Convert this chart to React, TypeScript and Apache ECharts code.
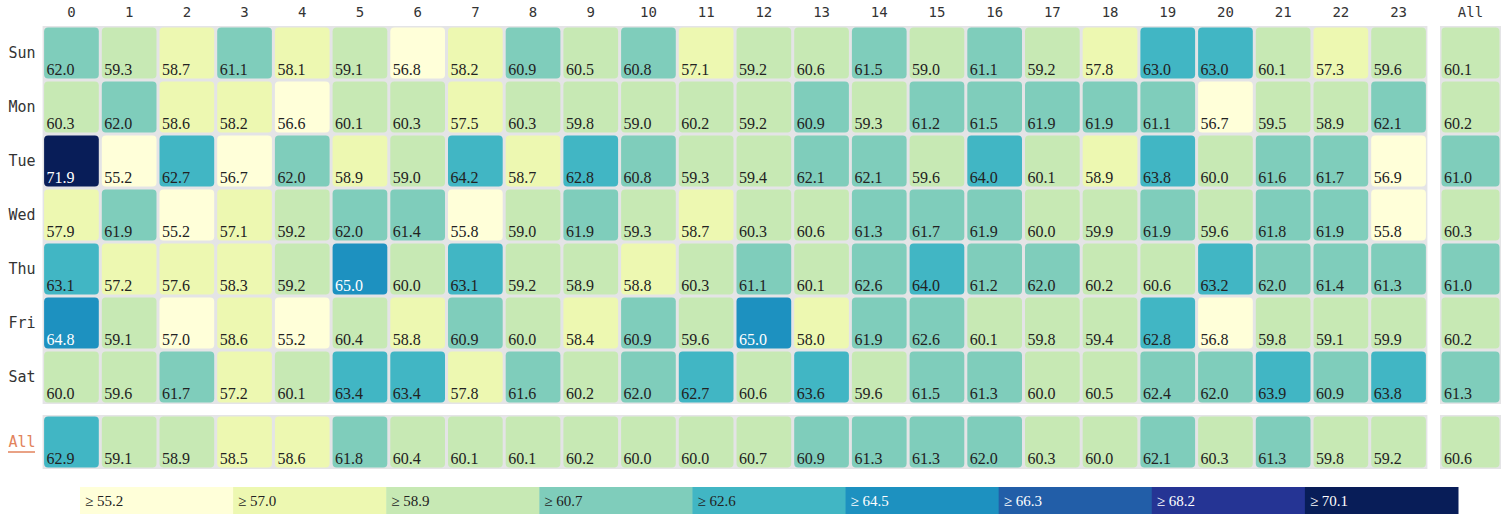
import React, { useEffect, useRef } from "react";
import * as echarts from "echarts";

const hours = ["0","1","2","3","4","5","6","7","8","9","10","11","12","13","14","15","16","17","18","19","20","21","22","23"];
const days = ["Sun", "Mon", "Tue", "Wed", "Thu", "Fri", "Sat"];
const allLabel = ["All"];

const sun = [62.0, 59.3, 58.7, 61.1, 58.1, 59.1, 56.8, 58.2, 60.9, 60.5, 60.8, 57.1, 59.2, 60.6, 61.5, 59.0, 61.1, 59.2, 57.8, 63.0, 63.0, 60.1, 57.3, 59.6];
const mon = [60.3, 62.0, 58.6, 58.2, 56.6, 60.1, 60.3, 57.5, 60.3, 59.8, 59.0, 60.2, 59.2, 60.9, 59.3, 61.2, 61.5, 61.9, 61.9, 61.1, 56.7, 59.5, 58.9, 62.1];
const tue = [71.9, 55.2, 62.7, 56.7, 62.0, 58.88, 59.0, 64.2, 58.7, 62.8, 60.8, 59.3, 59.4, 62.1, 62.1, 59.6, 64.0, 60.1, 58.87, 63.8, 60.0, 61.6, 61.7, 56.9];
const wed = [57.9, 61.9, 55.2, 57.1, 59.2, 62.0, 61.4, 55.8, 59.0, 61.9, 59.3, 58.7, 60.3, 60.6, 61.3, 61.7, 61.9, 60.0, 59.9, 61.9, 59.6, 61.8, 61.9, 55.8];
const thu = [63.1, 57.2, 57.6, 58.3, 59.2, 65.0, 60.0, 63.1, 59.2, 58.9, 58.8, 60.3, 61.1, 60.1, 62.58, 64.0, 61.2, 62.0, 60.2, 60.6, 63.2, 62.0, 61.4, 61.3];
const fri = [64.8, 59.1, 56.97, 58.6, 55.2, 60.4, 58.8, 60.9, 60.0, 58.4, 60.9, 59.6, 65.0, 58.0, 61.9, 62.58, 60.1, 59.8, 59.4, 62.8, 56.8, 59.8, 59.1, 59.9];
const sat = [60.0, 59.6, 61.7, 57.2, 60.1, 63.4, 63.4, 57.8, 61.6, 60.2, 62.0, 62.7, 60.6, 63.6, 59.6, 61.5, 61.3, 60.0, 60.5, 62.4, 62.0, 63.9, 60.9, 63.8];
const dayAll = [60.1, 60.2, 61.0, 60.3, 61.0, 60.2, 61.3];
const hourAll = [62.9, 59.1, 58.9, 58.5, 58.6, 61.8, 60.4, 60.1, 60.1, 60.2, 60.0, 60.0, 60.68, 60.9, 61.3, 61.3, 62.0, 60.3, 60.0, 62.1, 60.3, 61.3, 59.8, 59.2];
const grandAll = 60.6;

const thresholds = [55.2, 57.0, 58.9, 60.7, 62.6, 64.5, 66.3, 68.2, 70.1];
const colors = ["#ffffd9", "#edf8b1", "#c7e9b4", "#7fcdbb", "#41b6c4", "#1d91c0", "#225ea8", "#253494", "#081d58"];

const SERIF = '"Liberation Serif", "Times New Roman", serif';

function colorFor(v: number): string {
  let c = colors[0];
  for (let i = 0; i < thresholds.length; i++) if (v >= thresholds[i]) c = colors[i];
  return c;
}

const renderCell = (params: any, api: any) => {
  const v = api.value(2) as number;
  const c = api.coord([api.value(0), api.value(1)]);
  const s = api.size([1, 1]);
  const w = s[0], h = s[1];
  return {
    type: "group",
    children: [
      {
        type: "rect",
        shape: { x: c[0] - w / 2 + 1.5, y: c[1] - h / 2 + 1.5, width: w - 3, height: h - 3, r: 4 },
        style: { fill: colorFor(v) },
      },
      {
        type: "text",
        x: c[0] - w / 2 + 4,
        y: c[1] + h / 2 - 3,
        style: {
          text: v.toFixed(1),
          fill: v >= 64.5 ? "#ffffff" : "#222222",
          font: "16px " + SERIF,
          fontFamily: SERIF,
          fontSize: 16,
          align: "left",
          verticalAlign: "bottom",
        },
      },
    ],
  };
};

export default function App() {
  const ref = useRef<HTMLDivElement>(null);
  useEffect(() => {
    document.body.style.margin = "0";
    const chart = echarts.init(ref.current!, null, { renderer: "svg" });
    const rows = [sun, mon, tue, wed, thu, fri, sat];
    const mainData: any[] = [];
    rows.forEach((r, yi) => r.forEach((v, xi) => mainData.push([xi, yi, v])));
    const colData = dayAll.map((v, yi) => [0, yi, v]);
    const rowData = hourAll.map((v, xi) => [xi, 0, v]);
    const cornerData = [[0, 0, grandAll]];

    const pitchX = 57.7;
    const mainLeft = 42.6;
    const mainW = pitchX * 24;
    const gridBase = { show: true, backgroundColor: "#e4e4e6", borderWidth: 0, containLabel: false };
    const monoLabel = { fontFamily: "DejaVu Sans Mono", fontSize: 14, color: "#333" };
    const hidden = { show: false };

    const mkX = (gi: number, data: string[], show: boolean) => ({
      type: "category", gridIndex: gi, data, position: "top",
      axisLine: hidden, axisTick: hidden, splitLine: hidden,
      axisLabel: show ? { ...monoLabel, margin: 7 } : hidden,
    });
    const mkY = (gi: number, data: string[], label: any) => ({
      type: "category", gridIndex: gi, data, inverse: true,
      axisLine: hidden, axisTick: hidden, splitLine: hidden,
      axisLabel: label,
    });

    const legendW = 1378 / thresholds.length;
    const legendGraphics: any[] = [];
    thresholds.forEach((t, i) => {
      legendGraphics.push({
        type: "rect",
        shape: { x: 80 + i * legendW, y: 487, width: legendW + 0.5, height: 27 },
        style: { fill: colors[i] },
      });
      legendGraphics.push({
        type: "text",
        x: 80 + i * legendW + 5,
        y: 501,
        style: {
          text: "≥ " + t.toFixed(1),
          fill: i >= 5 ? "#ffffff" : "#222222",
          font: "15px " + SERIF,
          fontFamily: SERIF,
          fontSize: 15,
          align: "left",
          verticalAlign: "middle",
        },
      });
    });
    legendGraphics.push({
      type: "line",
      shape: { x1: 8, y1: 452, x2: 35, y2: 452 },
      style: { stroke: "#e2835c", lineWidth: 1.5 },
    });

    chart.setOption({
      animation: false,
      backgroundColor: "#ffffff",
      grid: [
        { ...gridBase, left: mainLeft, top: 26, width: mainW, height: 378 },
        { ...gridBase, left: 1440, top: 26, width: 61, height: 378 },
        { ...gridBase, left: mainLeft, top: 415, width: mainW, height: 54 },
        { ...gridBase, left: 1440, top: 415, width: 61, height: 54 },
      ],
      xAxis: [
        mkX(0, hours, true),
        mkX(1, allLabel, true),
        mkX(2, hours, false),
        mkX(3, allLabel, false),
      ],
      yAxis: [
        mkY(0, days, { fontFamily: "DejaVu Sans Mono", fontSize: 15, color: "#333", margin: 7 }),
        mkY(1, days, hidden),
        mkY(2, allLabel, { fontFamily: "DejaVu Sans Mono", fontSize: 15, color: "#e2835c", margin: 7 }),
        mkY(3, allLabel, hidden),
      ],
      series: [
        { type: "custom", xAxisIndex: 0, yAxisIndex: 0, data: mainData, renderItem: renderCell, encode: { x: 0, y: 1 } },
        { type: "custom", xAxisIndex: 1, yAxisIndex: 1, data: colData, renderItem: renderCell, encode: { x: 0, y: 1 } },
        { type: "custom", xAxisIndex: 2, yAxisIndex: 2, data: rowData, renderItem: renderCell, encode: { x: 0, y: 1 } },
        { type: "custom", xAxisIndex: 3, yAxisIndex: 3, data: cornerData, renderItem: renderCell, encode: { x: 0, y: 1 } },
      ],
      graphic: legendGraphics,
    });
    return () => chart.dispose();
  }, []);
  return <div ref={ref} style={{ width: 1506, height: 518 }} />;
}
